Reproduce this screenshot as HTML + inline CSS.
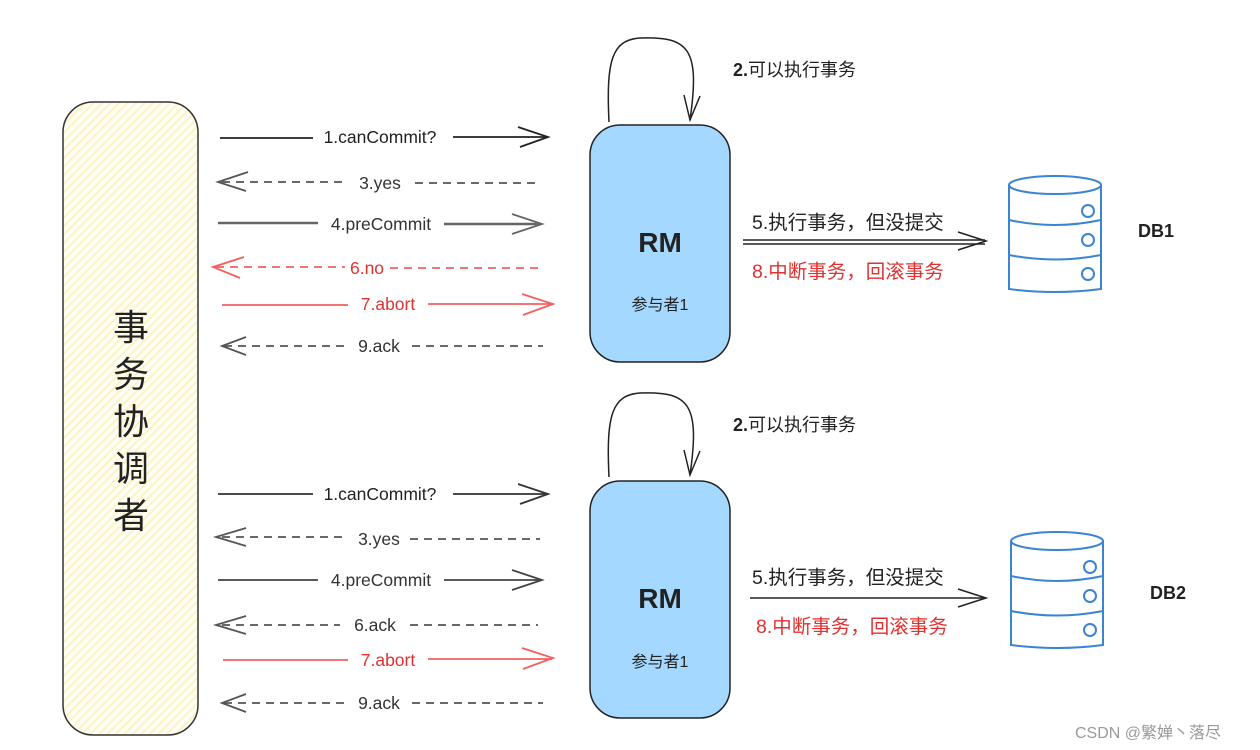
<!DOCTYPE html>
<html><head><meta charset="utf-8"><style>
html,body{margin:0;padding:0;background:#fff;}
svg{display:block}
text{font-family:"Liberation Sans","Noto Sans CJK SC",sans-serif;}
</style></head><body>
<svg width="1260" height="750" viewBox="0 0 1260 750" xmlns="http://www.w3.org/2000/svg">
<defs>
<pattern id="h" width="6" height="6" patternUnits="userSpaceOnUse" patternTransform="rotate(45)">
<rect width="6" height="6" fill="#fffef5"/><rect width="2" height="6" fill="#fdf2c4"/>
</pattern>
</defs>
<rect x="63" y="102" width="135" height="633" rx="30" fill="url(#h)" stroke="#333" stroke-width="1.5"/>
<g font-size="36" fill="#222" text-anchor="middle">
<text x="131" y="340">事</text><text x="131" y="387">务</text><text x="131" y="434">协</text><text x="131" y="481">调</text><text x="131" y="528">者</text>
</g>

<g stroke="#222" stroke-width="1.5" fill="#a5d8ff">
<rect x="590" y="125" width="140" height="237" rx="30"/>
<rect x="590" y="481" width="140" height="237" rx="30"/>
</g>
<g text-anchor="middle" fill="#222">
<text x="660" y="252" font-size="28" font-weight="bold">RM</text>
<text x="660" y="310" font-size="16">参与者1</text>
<text x="660" y="608" font-size="28" font-weight="bold">RM</text>
<text x="660" y="667" font-size="16">参与者1</text>
</g>

<g fill="none" stroke="#222" stroke-width="1.5">
<path d="M609 122 C606 60 612 40 640 38 C690 36 700 50 690 120"/>
<path d="M684 95 L690 120 L700 96"/>
<path d="M609 477 C606 415 612 395 640 393 C690 391 700 405 690 475"/>
<path d="M684 450 L690 475 L700 451"/>
</g>
<g font-size="18" fill="#222">
<text x="733" y="76"><tspan font-weight="bold">2.</tspan>可以执行事务</text>
<text x="733" y="431"><tspan font-weight="bold">2.</tspan>可以执行事务</text>
</g>

<g fill="none" stroke-width="1.8">
<g stroke="#222"><path d="M220 138 H313 M453 137 H548"/><path d="M518 127 L548 137 L520 147"/></g>
<g stroke="#555" stroke-dasharray="8 6"><path d="M222 182 H345 M415 183 H540"/></g>
<path d="M248 172 L218 182 L246 191" stroke="#555"/>
<g stroke="#666" stroke-width="2.5"><path d="M218 223 H318 M444 224 H540"/></g><path d="M512 214 L542 224 L512 234" stroke="#666"/>
<g stroke="#f06060" stroke-dasharray="8 6"><path d="M216 267 H345 M390 268 H540"/></g>
<path d="M244 257 L213 267 L240 278" stroke="#f06060"/>
<g stroke="#f06060"><path d="M222 305 H348 M428 304 H552"/><path d="M522 294 L553 304 L523 315" /></g>
<g stroke="#555" stroke-dasharray="8 6"><path d="M224 346 H345 M412 346 H543"/></g>
<path d="M246 337 L222 346 L246 355" stroke="#555"/>
</g>
<g font-size="17.5" text-anchor="middle">
<text x="380" y="143" fill="#222">1.canCommit?</text>
<text x="380" y="189" fill="#333">3.yes</text>
<text x="381" y="230" fill="#333">4.preCommit</text>
<text x="367" y="274" fill="#e03131">6.no</text>
<text x="388" y="310" fill="#e03131">7.abort</text>
<text x="379" y="352" fill="#333">9.ack</text>
</g>

<g fill="none" stroke-width="1.8">
<g stroke="#333"><path d="M218 494 H313 M453 494 H548"/><path d="M518 484 L548 494 L520 504"/></g>
<g stroke="#555" stroke-dasharray="8 6"><path d="M222 537 H345 M410 539 H540"/></g>
<path d="M246 528 L216 537 L246 546" stroke="#555"/>
<g stroke="#444"><path d="M218 580 H318 M444 580 H540"/><path d="M512 570 L542 580 L512 590"/></g>
<g stroke="#555" stroke-dasharray="8 6"><path d="M222 625 H340 M410 625 H538"/></g>
<path d="M246 616 L216 625 L246 634" stroke="#555"/>
<g stroke="#f06060"><path d="M223 660 H348 M428 659 H552"/><path d="M522 648 L553 658 L523 669"/></g>
<g stroke="#555" stroke-dasharray="8 6"><path d="M224 703 H345 M412 703 H543"/></g>
<path d="M246 694 L222 703 L246 712" stroke="#555"/>
</g>
<g font-size="17.5" text-anchor="middle">
<text x="380" y="500" fill="#222">1.canCommit?</text>
<text x="379" y="545" fill="#333">3.yes</text>
<text x="381" y="586" fill="#333">4.preCommit</text>
<text x="375" y="631" fill="#333">6.ack</text>
<text x="388" y="666" fill="#e03131">7.abort</text>
<text x="379" y="709" fill="#333">9.ack</text>
</g>

<g fill="none" stroke="#222" stroke-width="1.5">
<path d="M743 240 H985 M743 244 H985"/><path d="M958 232 L986 241 L958 250"/>
<path d="M750 598 H985"/><path d="M958 589 L986 598 L958 607"/>
</g>
<g font-size="19.5">
<text x="752" y="229" fill="#222">5.执行事务，但没提交</text>
<text x="752" y="278" fill="#e03131">8.中断事务，回滚事务</text>
<text x="752" y="584" fill="#222">5.执行事务，但没提交</text>
<text x="756" y="633" fill="#e03131">8.中断事务，回滚事务</text>
</g>

<g fill="none" stroke="#3a84d2" stroke-width="2">
<g>
<ellipse cx="1055" cy="185" rx="46" ry="9"/>
<path d="M1009 185 V289 Q1055 295 1101 289 V185"/>
<path d="M1009 220 Q1055 230 1101 220 M1009 255 Q1055 264 1101 255"/>
<circle cx="1088" cy="211" r="6"/><circle cx="1088" cy="240" r="6"/><circle cx="1088" cy="274" r="6"/>
</g>
<g transform="translate(2,356)">
<ellipse cx="1055" cy="185" rx="46" ry="9"/>
<path d="M1009 185 V289 Q1055 295 1101 289 V185"/>
<path d="M1009 220 Q1055 230 1101 220 M1009 255 Q1055 264 1101 255"/>
<circle cx="1088" cy="211" r="6"/><circle cx="1088" cy="240" r="6"/><circle cx="1088" cy="274" r="6"/>
</g>
</g>
<g font-size="18" fill="#222" font-weight="bold">
<text x="1138" y="237">DB1</text>
<text x="1150" y="599">DB2</text>
</g>
<text x="1075" y="738" font-size="16" fill="#999">CSDN @繁婵丶落尽</text>
</svg>
</body></html>
